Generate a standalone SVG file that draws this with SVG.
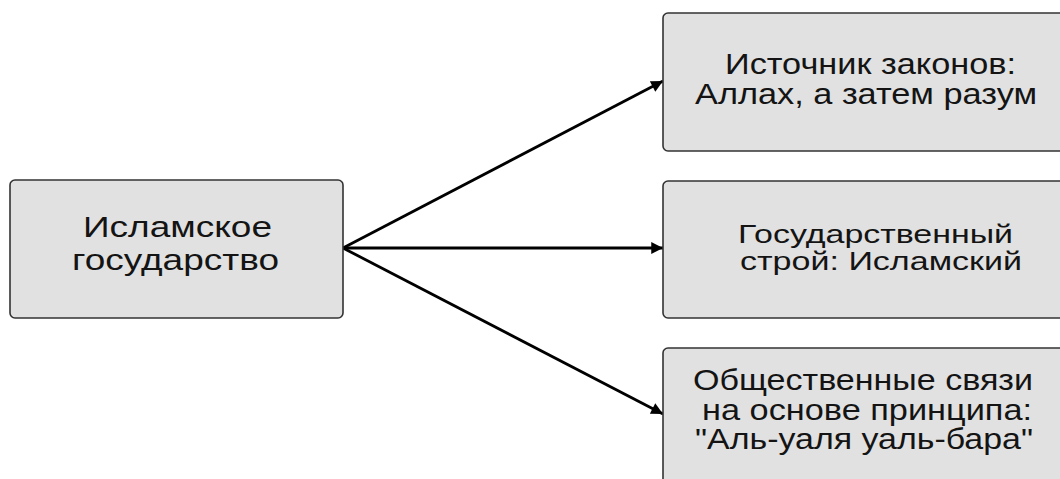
<svg xmlns="http://www.w3.org/2000/svg" width="1060" height="479" viewBox="0 0 1060 479">
<style>
.box{fill:#e1e1e1;stroke:#333;stroke-width:1.6}
.t{font-family:"Liberation Sans",Arial,sans-serif;font-size:29px;fill:#141414}
.s{font-size:26px}
.c{stroke:#000;stroke-width:2.8;fill:none;marker-end:url(#ah)}
</style>
<defs>
<marker id="ah" viewBox="0 0 10 10" refX="10" refY="5" markerWidth="5.4" markerHeight="4.2" markerUnits="strokeWidth" orient="auto">
<path d="M0,0 L10,5 L0,10 z" fill="#000"/>
</marker>
</defs>
<rect width="1060" height="479" fill="#fff"/>
<g id="connectors">
<line class="c" x1="343" y1="248" x2="663" y2="81"/>
<line class="c" x1="343" y1="248" x2="663" y2="248"/>
<line class="c" x1="343" y1="248" x2="663" y2="414"/>
</g>
<g id="n-state">
<rect class="box" x="10" y="180" width="333" height="138" rx="5"/>
<text class="t" x="83" y="237" textLength="189" lengthAdjust="spacingAndGlyphs">Исламское</text>
<text class="t" x="72" y="270" textLength="207" lengthAdjust="spacingAndGlyphs">государство</text>
</g>
<g id="n-source">
<rect class="box" x="663" y="13" width="405" height="138" rx="5"/>
<text class="t" x="725" y="74" textLength="291" lengthAdjust="spacingAndGlyphs">Источник законов:</text>
<text class="t" x="695" y="104" textLength="342" lengthAdjust="spacingAndGlyphs">Аллах, а затем разум</text>
</g>
<g id="n-system">
<rect class="box" x="663" y="181" width="405" height="137" rx="5"/>
<text class="t s" x="738" y="243" textLength="275" lengthAdjust="spacingAndGlyphs">Государственный</text>
<text class="t s" x="740" y="270" textLength="282" lengthAdjust="spacingAndGlyphs">строй: Исламский</text>
</g>
<g id="n-relations">
<rect class="box" x="663" y="348" width="405" height="140" rx="5"/>
<text class="t" x="693" y="390" textLength="340" lengthAdjust="spacingAndGlyphs">Общественные связи</text>
<text class="t" x="702" y="420" textLength="330" lengthAdjust="spacingAndGlyphs">на основе принципа:</text>
<text class="t" x="695" y="449" textLength="338" lengthAdjust="spacingAndGlyphs">"Аль-уаля уаль-бара"</text>
</g>
</svg>
